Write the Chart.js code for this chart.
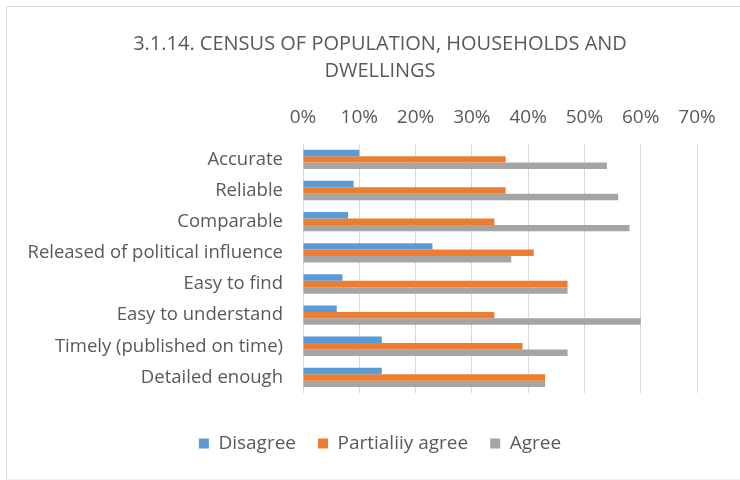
<!DOCTYPE html>
<html>
<head>
<meta charset="utf-8">
<script src="https://cdn.jsdelivr.net/npm/chart.js@4/dist/chart.umd.min.js"></script>
<style>
  body { margin: 0; background: #fff; }
  #box {
    position: absolute; left: 6px; top: 6px;
    width: 740px; height: 472px;
    border-left: 1px solid #d9d9d9; border-top: 1px solid #d9d9d9; border-bottom: 1px solid #eeeeee;
  }
  #chart { display: block; }
</style>
</head>
<body>
<div id="box"><canvas id="chart" width="734" height="472"></canvas></div>
<script>
var categories = ['Accurate', 'Reliable', 'Comparable', 'Released of political influence',
  'Easy to find', 'Easy to understand', 'Timely (published on time)', 'Detailed enough'];
var disagree = [10, 9, 8, 23, 7, 6, 14, 14];
var partially = [36, 36, 34, 41, 47, 34, 39, 43];
var agree = [54, 56, 58, 37, 47, 60, 47, 43];
var seriesNames = ['Disagree', 'Partialiiy agree', 'Agree'];

var font = "'Open Sans', sans-serif";
var textColor = '#595959';

// title and legend are centred a bit right of the canvas middle in the original
var shiftBoxes = {
  id: 'shiftBoxes',
  afterLayout: function(chart) {
    chart.titleBlock.left = 56;
    chart.legend.left = 56;
  }
};

new Chart(document.getElementById('chart'), {
  type: 'bar',
  data: {
    labels: categories,
    datasets: [
      { label: seriesNames[0], data: disagree, backgroundColor: '#5B9BD5' },
      { label: seriesNames[1], data: partially, backgroundColor: '#ED7D31' },
      { label: seriesNames[2], data: agree, backgroundColor: '#A5A5A5' }
    ]
  },
  options: {
    indexAxis: 'y',
    responsive: false,
    animation: false,
    categoryPercentage: 0.62,
    barPercentage: 1,
    layout: { padding: { left: 10, right: 44, top: 0, bottom: 16 } },
    scales: {
      x: {
        position: 'top',
        min: 0, max: 70,
        ticks: {
          stepSize: 10,
          color: textColor,
          font: { family: font, size: 19 },
          padding: 15,
          callback: function(v) { return v + '%'; }
        },
        grid: { color: '#d9d9d9', drawTicks: false },
        border: { display: false }
      },
      // empty bottom axis, only keeps the gap between bars and legend
      gap: {
        type: 'linear',
        position: 'bottom',
        display: true,
        ticks: { display: false },
        grid: { display: false, drawTicks: false },
        border: { display: false },
        afterFit: function(scale) { scale.height = 19; }
      },
      y: {
        ticks: { color: textColor, font: { family: font, size: 18.5 }, padding: 20 },
        grid: { display: false, drawTicks: false },
        border: { display: false },
        afterFit: function(scale) { scale.width = 286; }
      }
    },
    plugins: {
      title: {
        display: true,
        text: ['3.1.14. CENSUS OF POPULATION, HOUSEHOLDS AND', 'DWELLINGS'],
        color: textColor,
        font: { family: font, size: 20, weight: 'normal', lineHeight: 1.35 },
        padding: { top: 24, bottom: 6 }
      },
      legend: {
        position: 'bottom',
        labels: {
          color: textColor,
          font: { family: font, size: 19 },
          boxWidth: 10, boxHeight: 10,
          padding: 22
        }
      },
      tooltip: { enabled: false }
    }
  },
  plugins: [shiftBoxes]
});
</script>
</body>
</html>
